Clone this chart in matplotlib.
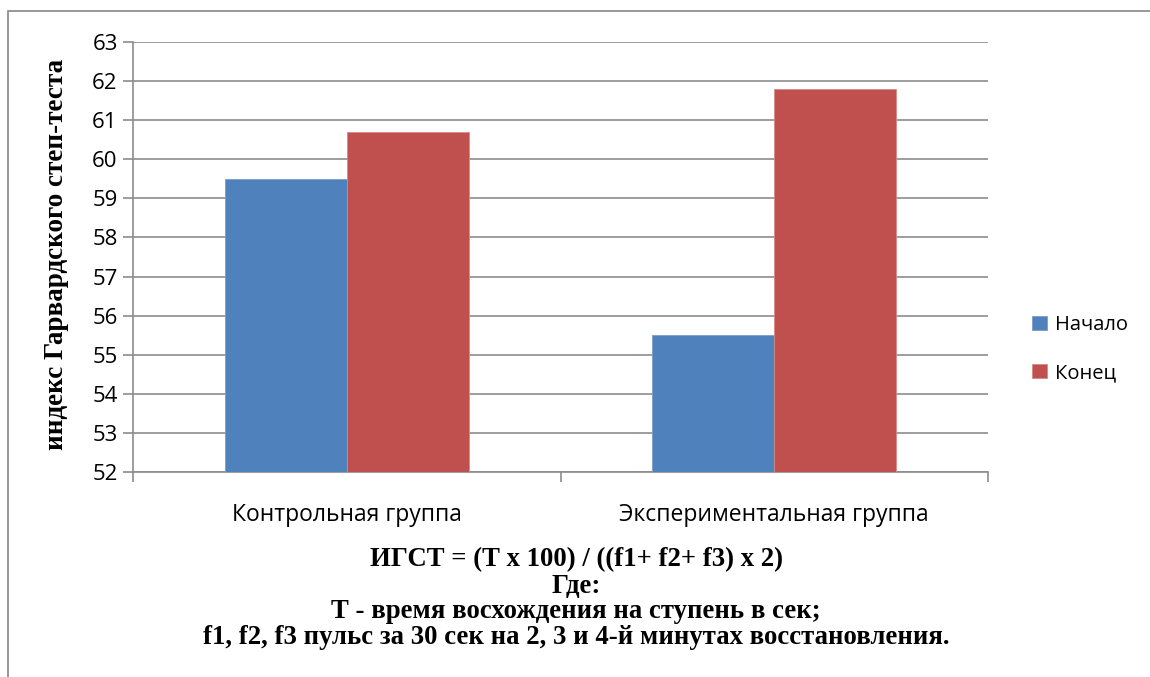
import matplotlib
matplotlib.use("Agg")
import numpy as np
from matplotlib import pyplot as plt
from matplotlib.patches import Rectangle

groups = ["Контрольная группа", "Экспериментальная группа"]
series = ["Начало", "Конец"]
start_vals = [59.5, 55.5]
end_vals = [60.7, 61.8]
y_ticks = list(range(52, 64))

notes = [
    "ИГСТ = (Т х 100) / ((f1+ f2+ f3) х 2)",
    "Где:",
    "Т - время восхождения на ступень в сек;",
    "f1, f2, f3 пульс за 30 сек на 2, 3 и 4-й минутах восстановления.",
]

BLUE = "#4F81BD"
RED = "#C0504D"
GRID = "#8C8C8C"

plt.rcParams["font.family"] = ["Open Sans", "DejaVu Sans"]

fig = plt.figure(figsize=(11.5, 6.77), dpi=100)
ax = fig.add_axes([133 / 1150, 1 - 472 / 677, 855 / 1150, 430 / 677])

# outer chart frame (top and left edges visible)
fig.patches.append(Rectangle((8 / 1150, -0.05), 1.2, 1 - 11 / 677 + 0.05,
                             transform=fig.transFigure, fill=False,
                             edgecolor="#868686", linewidth=1.2))

x = np.arange(len(groups))
w = 1 / 3.5
ax.bar(x - w / 2, np.array(start_vals) - 52, w, bottom=52, color=BLUE,
       edgecolor="#7A9CCC", linewidth=0.6, label=series[0], zorder=3)
ax.bar(x + w / 2, np.array(end_vals) - 52, w, bottom=52, color=RED,
       edgecolor="#D88A88", linewidth=0.6, label=series[1], zorder=3)

ax.set_ylim(52, 63)
ax.set_xlim(-0.5, 1.5)
ax.set_yticks(y_ticks)
ax.tick_params(axis="y", direction="out", length=7, width=1.2, color=GRID,
               labelsize=16, pad=4)
ax.yaxis.grid(True, color=GRID, linewidth=1.2, zorder=0)
ax.set_axisbelow(True)

ax.set_xticks([-0.5, 0.5, 1.5])
ax.set_xticklabels([])
ax.tick_params(axis="x", which="major", direction="out", length=7, width=1.2,
               color=GRID)
ax.set_xticks(x, minor=True)
ax.set_xticklabels(groups, minor=True)
ax.tick_params(axis="x", which="minor", length=0, labelsize=16.5, pad=22)

for s in ["top", "right"]:
    ax.spines[s].set_visible(False)
for s in ["left", "bottom"]:
    ax.spines[s].set_color(GRID)
    ax.spines[s].set_linewidth(1.2)

ax.set_ylabel("индекс Гарвардского степ-теста", family="Liberation Serif",
              fontweight="bold", fontsize=19.5)
ax.yaxis.set_label_coords(-0.075, 0.505)

ax.legend(loc="center left", bbox_to_anchor=(1.030, 0.286), frameon=False,
          fontsize=14.5, handlelength=0.75, handleheight=0.75,
          labelspacing=1.4, handletextpad=0.4)

for txt, yp in zip(notes, [560, 586, 612, 638]):
    fig.text(576 / 1150, 1 - yp / 677, txt, ha="center",
             va="center", family="Liberation Serif", fontweight="bold",
             fontsize=19.3)

fig.savefig("out.png", dpi=100)
